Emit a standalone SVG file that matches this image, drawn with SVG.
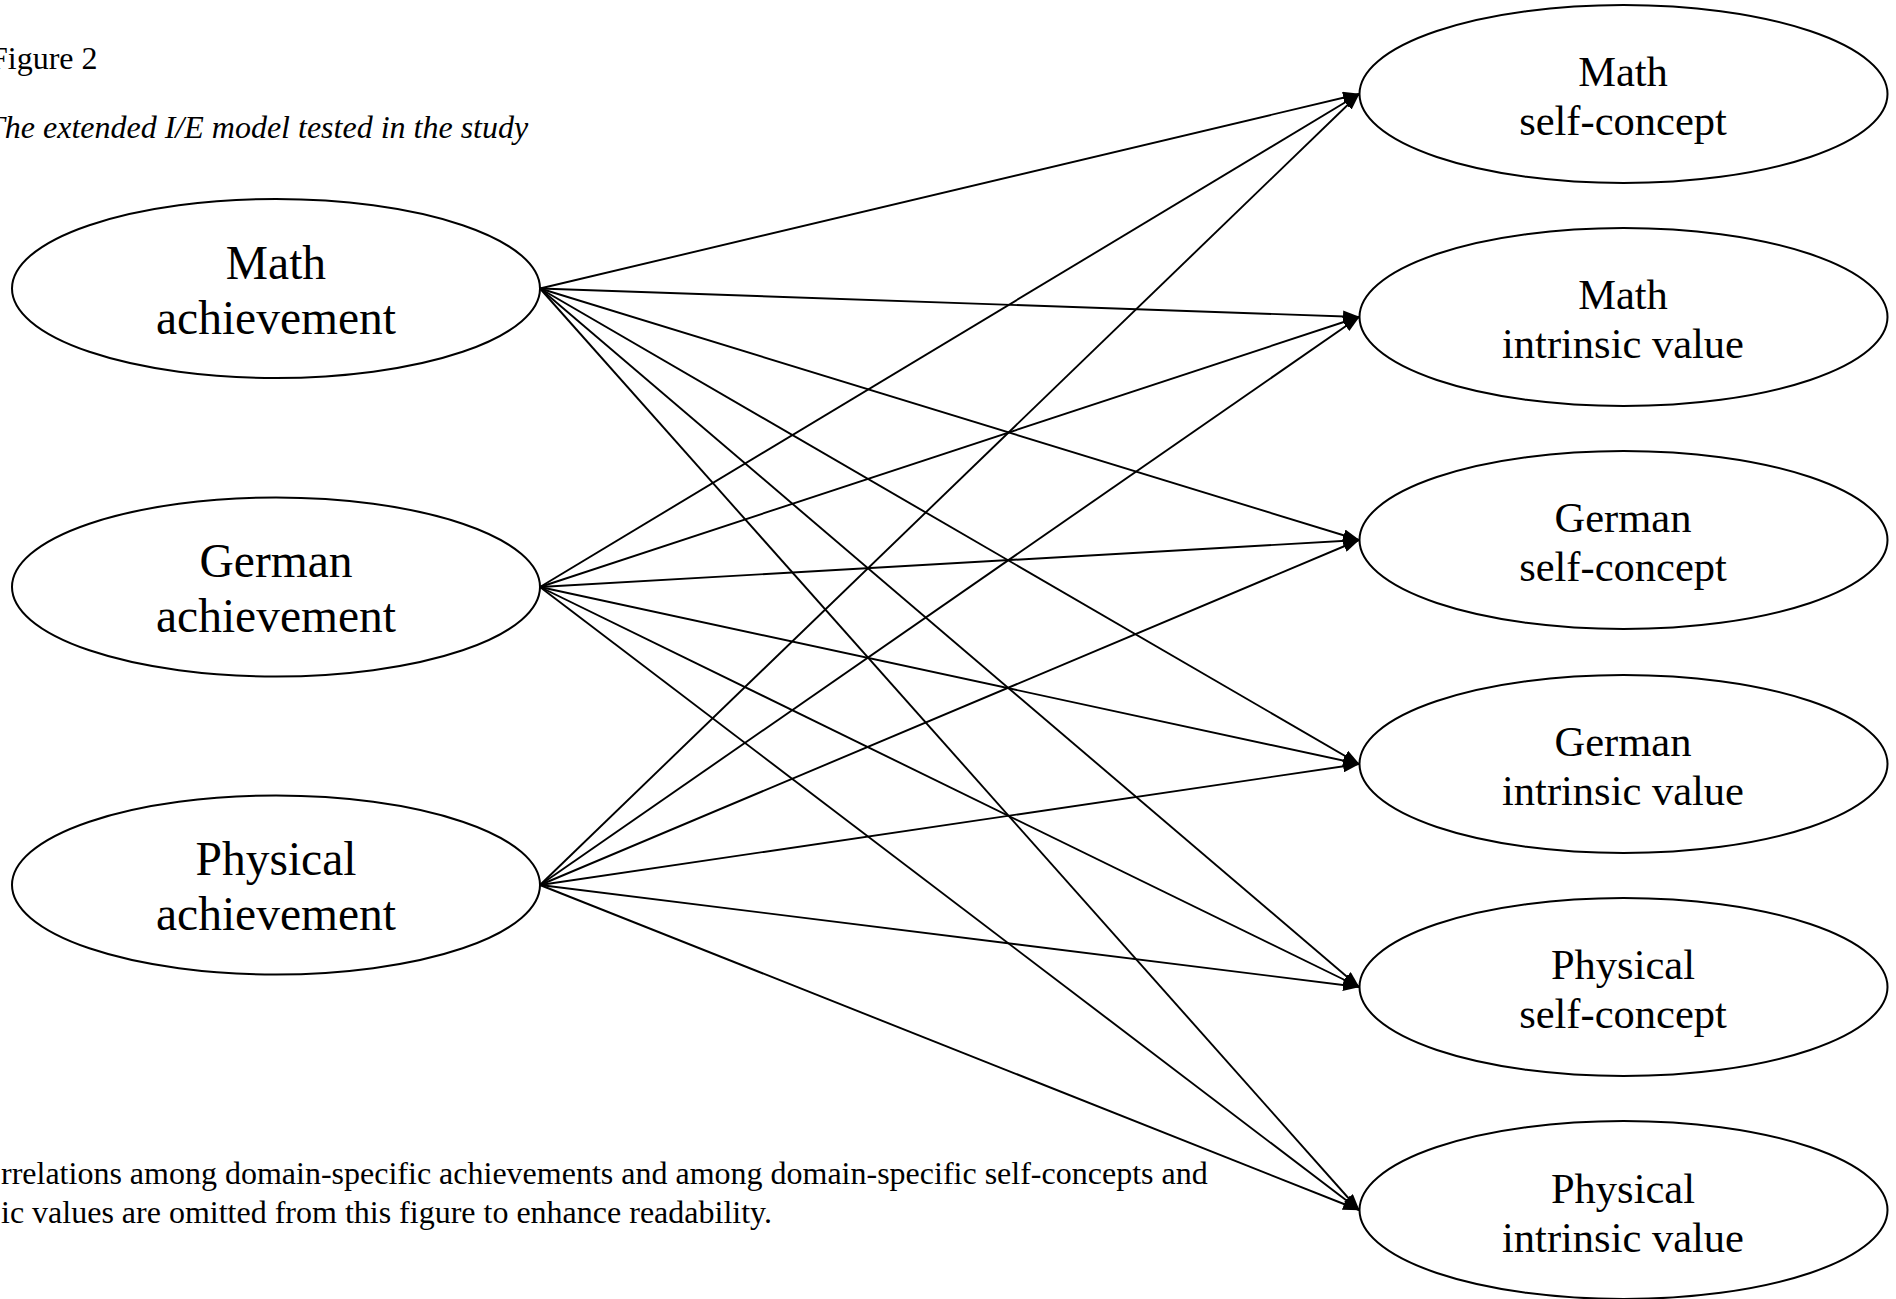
<svg xmlns="http://www.w3.org/2000/svg" width="1896" height="1299" viewBox="0 0 1896 1299">
<defs>
<marker id="ah" markerUnits="userSpaceOnUse" markerWidth="17" markerHeight="12" viewBox="0 0 17 12" refX="16" refY="6" orient="auto">
<path d="M0,0 L17,6 L0,12 z" fill="#000"/>
</marker>
<style>
.node{fill:#fff;stroke:#000;stroke-width:2}
.lt{font-family:"Liberation Serif","Times New Roman",serif;font-size:47.5px;fill:#000;text-anchor:middle}
.rt{font-family:"Liberation Serif","Times New Roman",serif;font-size:42.5px;fill:#000;text-anchor:middle}
.cap{font-family:"Liberation Serif","Times New Roman",serif;font-size:32px;fill:#000}
.edge{stroke:#000;stroke-width:1.9;fill:none;marker-end:url(#ah)}
</style>
</defs>
<rect width="1896" height="1299" fill="#fff"/>
<text class="cap" x="-10" y="69">Figure 2</text>
<text class="cap" x="-13" y="138" font-style="italic">The extended I/E model tested in the study</text>
<text class="cap" x="1" y="1184">rrelations among domain-specific achievements and among domain-specific self-concepts and</text>
<text class="cap" x="1" y="1223">ic values are omitted from this figure to enhance readability.</text>
<g id="connectors">
<line class="edge" x1="540" y1="288.5" x2="1359" y2="94"/>
<line class="edge" x1="540" y1="288.5" x2="1359" y2="317"/>
<line class="edge" x1="540" y1="288.5" x2="1359" y2="540"/>
<line class="edge" x1="540" y1="288.5" x2="1359" y2="764"/>
<line class="edge" x1="540" y1="288.5" x2="1359" y2="987"/>
<line class="edge" x1="540" y1="288.5" x2="1359" y2="1210"/>
<line class="edge" x1="540" y1="587" x2="1359" y2="94"/>
<line class="edge" x1="540" y1="587" x2="1359" y2="317"/>
<line class="edge" x1="540" y1="587" x2="1359" y2="540"/>
<line class="edge" x1="540" y1="587" x2="1359" y2="764"/>
<line class="edge" x1="540" y1="587" x2="1359" y2="987"/>
<line class="edge" x1="540" y1="587" x2="1359" y2="1210"/>
<line class="edge" x1="540" y1="885" x2="1359" y2="94"/>
<line class="edge" x1="540" y1="885" x2="1359" y2="317"/>
<line class="edge" x1="540" y1="885" x2="1359" y2="540"/>
<line class="edge" x1="540" y1="885" x2="1359" y2="764"/>
<line class="edge" x1="540" y1="885" x2="1359" y2="987"/>
<line class="edge" x1="540" y1="885" x2="1359" y2="1210"/>
</g>
<g id="math-achievement"><ellipse class="node" cx="276" cy="288.5" rx="264" ry="89.5"/><text class="lt" x="276" y="278.5">Math</text><text class="lt" x="276" y="333.5">achievement</text></g>
<g id="german-achievement"><ellipse class="node" cx="276" cy="587" rx="264" ry="89.5"/><text class="lt" x="276" y="577">German</text><text class="lt" x="276" y="632">achievement</text></g>
<g id="physical-achievement"><ellipse class="node" cx="276" cy="885" rx="264" ry="89.5"/><text class="lt" x="276" y="875">Physical</text><text class="lt" x="276" y="930">achievement</text></g>
<g id="math-self-concept"><ellipse class="node" cx="1623.5" cy="94" rx="264" ry="89"/><text class="rt" x="1623" y="86">Math</text><text class="rt" x="1623" y="135">self-concept</text></g>
<g id="math-intrinsic-value"><ellipse class="node" cx="1623.5" cy="317" rx="264" ry="89"/><text class="rt" x="1623" y="309">Math</text><text class="rt" x="1623" y="358">intrinsic value</text></g>
<g id="german-self-concept"><ellipse class="node" cx="1623.5" cy="540" rx="264" ry="89"/><text class="rt" x="1623" y="532">German</text><text class="rt" x="1623" y="581">self-concept</text></g>
<g id="german-intrinsic-value"><ellipse class="node" cx="1623.5" cy="764" rx="264" ry="89"/><text class="rt" x="1623" y="756">German</text><text class="rt" x="1623" y="805">intrinsic value</text></g>
<g id="physical-self-concept"><ellipse class="node" cx="1623.5" cy="987" rx="264" ry="89"/><text class="rt" x="1623" y="979">Physical</text><text class="rt" x="1623" y="1028">self-concept</text></g>
<g id="physical-intrinsic-value"><ellipse class="node" cx="1623.5" cy="1210" rx="264" ry="89"/><text class="rt" x="1623" y="1203">Physical</text><text class="rt" x="1623" y="1252">intrinsic value</text></g>
</svg>
